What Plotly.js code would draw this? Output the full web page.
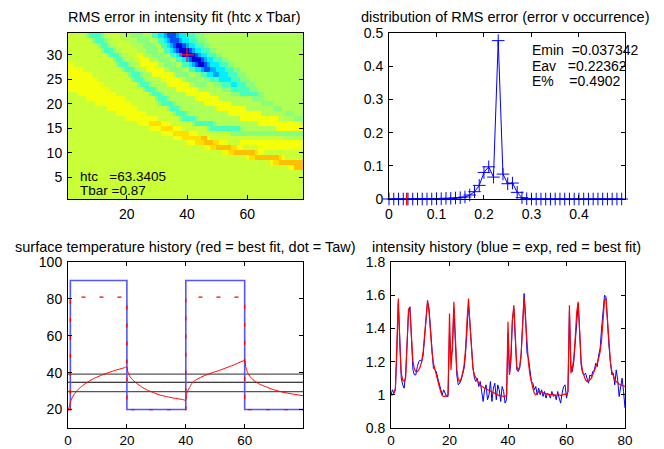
<!DOCTYPE html>
<html><head><meta charset="utf-8">
<script src="https://cdn.plot.ly/plotly-3.0.1.min.js"></script>
<style>html,body{margin:0;padding:0;background:#fff}#plot{width:664px;height:449px}</style>
</head><body><div id="plot"></div>
<script>
// ---------- Heatmap (RMS error, htc x Tbar) : rows from y=34 (top) to y=1 (bottom), segments "from-to:level" ----------
const heatRows = [
"1-6:7 7:5 8-11:4 12:5 13:6 14-17:7 18-21:6 22-25:5 26-28:6 29-30:4 31-32:3 33:2 34-36:1 37:2 38-39:3 40-42:4 43-45:5 46-78:6",
"1-8:7 9:5 10-12:4 13:5 14-15:6 16-19:7 20-23:6 24-27:5 28-30:6 31-32:4 33:3 34:2 35-37:1 38:2 39-40:3 41-43:4 44-46:5 47-78:6",
"1-10:7 11:5 12-13:4 14:5 15-16:6 17-21:7 22-25:6 26-29:5 30-31:6 32-33:4 34:3 35:2 36:1 37-38:0 39:1 40:2 41-42:3 43-45:4 46-47:5 48-78:6",
"1-11:7 12:5 13-15:4 16:5 17-18:6 19-23:7 24-26:6 27-30:5 31-32:6 33-34:4 35:3 36:2 37:1 38-40:0 41:1 42:2 43-44:3 45-47:4 48-49:5 50-78:6",
"1-13:7 14:5 15-17:4 18:5 19-20:6 21-23:7 24-25:8 26-28:6 29-32:5 33-34:6 35-36:4 37:3 38:2 39-42:0 43:1 44:2 45-46:3 47-49:4 50-51:5 52-78:6",
"1-15:7 16:5 17-18:4 19:5 20-22:6 23-24:7 25-27:8 28-30:6 31-34:5 35-36:6 37-38:4 39:3 40:2 41:1 42-44:0 45:1 46:2 47-48:3 49-51:4 52-53:5 54-78:6",
"1-2:8 3-16:7 17:5 18-20:4 21:5 22-24:6 25-30:8 31-32:6 33-36:5 37-38:6 39-40:4 41:3 42:2 43:1 44-45:0 46:1 47:2 48-50:3 51-53:4 54-55:5 56-78:6",
"1-5:8 6-18:7 19:5 20-22:4 23:5 24-26:6 27-32:8 33-34:6 35-38:5 39-40:6 41-42:4 43-44:3 45:2 46-47:1 48-49:2 50-52:3 53-55:4 56-57:5 58-78:6",
"1-8:8 9-20:7 21:5 22-24:4 25:5 26-28:6 29-35:8 36:6 37-40:5 41-42:6 43-44:5 45-46:4 47-48:3 49-50:2 51-53:3 54-56:4 57-59:5 60-78:6",
"1-10:8 11-21:7 22:5 23-25:4 26:5 27-31:6 32-38:8 39:6 40-43:5 44-45:6 46-47:5 48-50:4 51-54:3 55-57:4 58-60:5 61-78:6",
"1-12:8 13-23:7 24:5 25-27:4 28:5 29-33:6 34-40:8 41-42:6 43-46:5 47-48:6 49-51:5 52-54:4 55-56:3 57-59:4 60-62:5 63-78:6",
"1-14:8 15-25:7 26:5 27-29:4 30:5 31-36:6 37-43:8 44-51:6 52-54:5 55-60:4 61-63:5 64-78:6",
"1-3:7 4-16:8 17-27:7 28:5 29-31:4 32:5 33-39:6 40-47:8 48-54:6 55-57:5 58-63:4 64-65:5 66-78:6",
"1-6:7 7-19:8 20-29:7 30:5 31-33:4 34:5 35-42:6 43-50:8 51-58:6 59-61:6 62-65:5 66-68:6 69-78:6",
"1-9:7 10-21:8 22-30:7 31:5 32-35:4 36:5 37-45:6 46-54:8 55-61:6 62-64:6 65-68:5 69-70:6 71-78:6",
"1-13:7 14-23:8 24-33:7 34:5 35-37:4 38:5 39-49:6 50-59:8 60-65:6 66-68:6 69-71:5 72-74:6 75-78:6",
"1-16:7 17-26:8 27-35:7 36:5 37-39:4 40:5 41-53:6 54-64:8 65-69:6 70-72:6 73-75:5 76-78:6",
"1-19:7 20-30:8 31-37:7 38:5 39-42:4 43:5 44-57:6 58-70:8 71-73:6 74-75:6 76-78:5",
"1-23:7 24-34:8 28-31:9 35-41:7 42:5 43-48:4 49:5 50-63:6 64-77:8 78:7",
"1-27:7 28-38:8 32-35:9 39-46:7 47:5 48-57:4 58:5 59-69:6 70-78:8",
"1-31:7 32-43:8 36-40:9 44-54:7 55-78:5",
"1-35:7 36-47:8 39-44:9 45-46:10 48-71:7 72-78:6",
"1-39:7 40-53:8 43-50:9 46-48:10 54-57:7 58-78:8",
"1-45:7 46-58:8 48-56:9 50-54:10 59-63:7 64-78:8",
"1-51:7 52-65:8 54-63:9 56-62:10 66-78:7",
"1-59:7 60-72:8 61-71:9 63-70:10 73-78:7",
"1-67:7 68-78:8 69-78:9 71-78:10",
"1-73:7 74-75:8 76-78:10",
"1-78:7","1-78:7","1-78:7","1-78:7","1-78:7","1-78:7"
];
const heatNCols = 78;
const levelColors = ['rgb(0,0,215)','rgb(0,80,255)','rgb(0,170,255)','rgb(0,240,255)','rgb(70,255,190)',
  'rgb(135,255,125)','rgb(175,255,85)','rgb(200,255,55)','rgb(245,255,10)','rgb(255,222,0)','rgb(255,190,0)'];
const bestHtcIdx = 40, bestTbarIdx = 30;
const htcText = "htc\u00a0\u00a0\u00a0=63.3405";
const tbarText = "Tbar\u00a0=0.87";
const heatXTicks = [20,40,60];
const heatYTicks = [5,10,15,20,25,30];

// ---------- Distribution of RMS error ----------
const histBins = Array.from({length:50},(_,i)=>+(i*0.01).toFixed(2));
const histFreq = [0,0,0,0,0,0,0,0,0,0,
  0.001,0.001,0.002,0.002,0.003,0.004,0.006,0.012,0.022,0.041,
  0.080,0.097,0.066,0.477,0.075,0.046,0.048,0.020,0.004,0.001,
  0,0,0,0,0,0,0,0,0,0,
  0,0,0,0,0,0,0,0,0,0];
const Emin = 0.037342, Eav = 0.22362, Epct = 0.4902;
const histXTicks = [0,0.1,0.2,0.3,0.4], histXText = ['0','0.1','0.2','0.3','0.4'];
const histYTicks = [0,0.1,0.2,0.3,0.4,0.5], histYText = ['0','0.1','0.2','0.3','0.4','0.5'];

// ---------- Surface temperature history ----------
const gasX = [0,0.8,0.8,20,20,40,40,60,60,80];
const gasY = [20,20,90,90,20,20,90,90,20,20];
const tawY = [20,20,81,81,20,20,81,81,20,20];
const tsX = [0,0.5,1,2,3.5,5,7,9,11,13,15,17,19,20,
  20.3,21,22,23.5,25,27,29,31,33,35,37,39,40,
  40.2,40.6,41.3,42,43,44.5,46.5,49,51,53.5,56,58,60,
  60.3,61,62,63.5,65,67,69,71,73,75,77,80];
const tsY = [19.5,22,25,28,31,33,35.3,37,38.4,39.6,40.7,41.7,42.6,43.2,
  40.5,38,36,34,32.3,30.5,29.2,28,27.2,26.5,25.9,25.4,25,
  27.5,30,32,34,35.6,37,38.5,40,41,42.5,44,45.4,46.5,
  43.5,40,37.5,35.3,33.8,32.5,31.2,30.2,29.4,28.8,28.2,27.5];
const refLevels = [39.2, 34.8, 29.7];
const refColors = ['#555','#000','#555'];
const tempXTicks = [0,20,40,60];
const tempYTicks = [20,40,60,80,100];

// ---------- Intensity history ----------
const timeStep = 0.5;
const intExp = [
 1.00,1.03,1.01,1.04,1.25,1.55,1.35,1.10,1.06,1.04,
 1.12,1.35,1.50,1.53,1.30,1.15,1.12,1.12,1.17,1.20,
 1.21,1.20,1.24,1.35,1.47,1.56,1.52,1.38,1.25,1.16,
 1.15,1.14,1.10,1.07,1.03,1.00,1.03,1.01,0.99,0.99,
 1.38,1.22,1.27,1.52,1.30,1.12,1.06,1.07,1.09,1.12,
 1.16,1.25,1.40,1.54,1.43,1.27,1.17,1.10,1.08,1.10,
 1.05,1.08,1.02,0.96,1.03,1.06,0.97,1.00,1.08,0.96,
 1.04,1.07,0.97,1.06,1.03,0.96,1.05,1.02,0.95,0.97,
 1.37,1.12,1.20,1.45,1.52,1.28,1.15,1.14,1.16,1.24,
 1.40,1.61,1.48,1.25,1.22,1.14,1.08,1.07,1.03,1.05,
 1.00,1.04,1.00,1.03,0.99,1.02,0.98,1.01,1.00,0.98,
 1.02,0.99,1.00,0.97,1.02,0.98,0.95,1.01,1.05,1.06,
 0.98,1.02,1.50,1.18,1.14,1.20,1.34,1.48,1.55,1.38,
 1.18,1.13,1.12,1.13,1.10,1.07,1.12,1.11,1.14,1.15,
 1.19,1.17,1.24,1.28,1.40,1.52,1.60,1.59,1.42,1.30,
 1.20,1.12,1.13,1.06,1.15,1.09,0.99,1.04,1.10,1.02,
 0.92];
const intFit = [
 1.00,1.00,1.01,1.03,1.30,1.58,1.30,1.13,1.09,1.08,
 1.10,1.30,1.52,1.50,1.32,1.20,1.155,1.14,1.14,1.15,
 1.17,1.20,1.26,1.36,1.48,1.57,1.50,1.36,1.26,1.19,
 1.15,1.11,1.08,1.05,1.02,0.995,0.99,0.99,0.995,1.00,
 1.49,1.15,1.30,1.56,1.35,1.15,1.09,1.08,1.10,1.13,
 1.18,1.28,1.45,1.58,1.42,1.25,1.16,1.12,1.10,1.08,
 1.07,1.06,1.05,1.045,1.04,1.035,1.03,1.025,1.02,1.015,
 1.01,1.005,1.00,1.00,0.995,0.995,0.99,0.99,0.99,0.995,
 1.44,1.12,1.25,1.45,1.54,1.30,1.17,1.15,1.17,1.25,
 1.42,1.585,1.45,1.28,1.19,1.12,1.07,1.04,1.01,1.00,
 1.01,1.02,1.02,1.015,1.01,1.01,1.005,1.005,1.00,1.00,
 1.005,1.00,1.00,0.995,1.00,1.00,0.995,1.00,1.00,1.005,
 1.00,1.02,1.54,1.13,1.16,1.22,1.35,1.50,1.56,1.40,
 1.20,1.14,1.11,1.09,1.08,1.08,1.09,1.10,1.12,1.14,
 1.16,1.19,1.22,1.26,1.33,1.48,1.57,1.58,1.45,1.28,
 1.20,1.14,1.11,1.09,1.08,1.07,1.065,1.06,1.055,1.05,
 1.05];
const intXTicks = [0,20,40,60,80];
const intYTicks = [0.8,1,1.2,1.4,1.6,1.8], intYText = ['0.8','1','1.2','1.4','1.6','1.8'];

// ---------- build ----------
function decodeRow(s){
  const row = new Array(heatNCols).fill(7);
  s.split(' ').forEach(seg=>{
    const [rng,lv] = seg.split(':');
    const p = rng.split('-').map(Number);
    const a = p[0], b = p.length>1 ? p[1] : p[0];
    for(let c=a;c<=b;c++) row[c-1] = Number(lv);
  });
  return row;
}
const heatZ = heatRows.map(decodeRow);
const heatY = heatRows.map((_,i)=>heatRows.length-i);
const heatX = Array.from({length:heatNCols},(_,i)=>i+1);
const nL = levelColors.length;
const cscale = [];
levelColors.forEach((c,i)=>{ cscale.push([i/nL,c]); cscale.push([(i+1)/nL,c]); });
const timeX = intExp.map((_,i)=>i*timeStep);

const F = 'Liberation Sans, Arial, Helvetica, sans-serif';
const W = 664, H = 449;
function px(x){return x/W;} function py(y){return 1-y/H;}
function axis(extra){
  return Object.assign({showline:true, mirror:'allticks', linecolor:'#000', linewidth:1,
    ticks:'inside', ticklen:4, tickwidth:1, tickcolor:'#000', showgrid:false, zeroline:false,
    tickfont:{family:F,size:14,color:'#000'}, fixedrange:true, ticklabelstandoff:2}, extra);
}
const bottomTickFont = {family:F,size:13.5,color:'#000'};

const traces = [
  {type:'heatmap', x:heatX, y:heatY, z:heatZ, colorscale:cscale, zmin:-0.5, zmax:nL-0.5,
   showscale:false, xaxis:'x', yaxis:'y', hoverinfo:'skip'},
  {type:'scatter', mode:'markers', x:[bestHtcIdx], y:[bestTbarIdx], xaxis:'x', yaxis:'y',
   marker:{symbol:'cross-thin', size:10, line:{color:'#ff2020', width:1.2}}, hoverinfo:'skip'},

  {type:'scatter', mode:'lines+markers', x:histBins, y:histFreq, xaxis:'x2', yaxis:'y2', cliponaxis:false,
   line:{color:'#0000ff', width:1}, marker:{symbol:'cross-thin', size:9, line:{color:'#0000ff', width:1}}},
  {type:'scatter', mode:'markers', x:[Emin], y:[0], xaxis:'x2', yaxis:'y2', cliponaxis:false,
   marker:{symbol:'line-ns', size:9, line:{color:'#ff0000', width:1.5}}},
];
refLevels.forEach((lv,i)=>traces.push({type:'scatter', mode:'lines', x:[0,80], y:[lv,lv], xaxis:'x3', yaxis:'y3',
  line:{color:refColors[i], width:1.2}}));
traces.push({type:'scatter', mode:'lines', x:gasX, y:gasY, xaxis:'x3', yaxis:'y3', line:{color:'#5555ff', width:1.6}});
traces.push({type:'scatter', mode:'lines', x:gasX, y:tawY, xaxis:'x3', yaxis:'y3', line:{color:'#ff0000', width:1.3, dash:'4px,14px'}});
traces.push({type:'scatter', mode:'lines', x:tsX, y:tsY, xaxis:'x3', yaxis:'y3', line:{color:'#ff0000', width:1, shape:'spline', smoothing:0.6}});
traces.push({type:'scatter', mode:'lines', x:timeX, y:intExp, xaxis:'x4', yaxis:'y4', line:{color:'#0000ff', width:1}});
traces.push({type:'scatter', mode:'lines', x:timeX, y:intFit, xaxis:'x4', yaxis:'y4', line:{color:'#ff0000', width:1.2}});

const titleFont = {family:F, size:14.5, color:'#000'};
const txtFont = {family:F, size:13.5, color:'#000'};
const layout = {
  width:W, height:H, margin:{l:0,r:0,t:0,b:0}, paper_bgcolor:'#fff', plot_bgcolor:'#fff', showlegend:false,
  xaxis: axis({domain:[px(68),px(303)], range:[0.5,78.5], tickvals:heatXTicks, anchor:'y'}),
  yaxis: axis({domain:[py(199),py(33)], range:[0.5,34.5], tickvals:heatYTicks, anchor:'x'}),
  xaxis2: axis({domain:[px(389),px(625)], range:[0,0.497], tickvals:histXTicks, ticktext:histXText, anchor:'y2'}),
  yaxis2: axis({domain:[py(199),py(33)], range:[0,0.5], tickvals:histYTicks, ticktext:histYText, anchor:'x2'}),
  xaxis3: axis({domain:[px(68),px(303)], range:[0,79.8], tickvals:tempXTicks, anchor:'y3', tickfont:bottomTickFont, ticklabelstandoff:0}),
  yaxis3: axis({domain:[py(428),py(262)], range:[10,100], tickvals:tempYTicks, anchor:'x3'}),
  xaxis4: axis({domain:[px(391),px(625)], range:[0,80], tickvals:intXTicks, anchor:'y4', tickfont:bottomTickFont, ticklabelstandoff:0}),
  yaxis4: axis({domain:[py(428),py(262)], range:[0.8,1.8], tickvals:intYTicks, ticktext:intYText, anchor:'x4'}),
  annotations:[
    {text:'RMS error in intensity fit (htc x Tbar)', xref:'paper', yref:'paper', x:px(184), y:py(17), showarrow:false, font:titleFont, xanchor:'center', yanchor:'middle'},
    {text:'distribution of RMS error (error v occurrence)', xref:'paper', yref:'paper', x:px(505), y:py(17), showarrow:false, font:titleFont, xanchor:'center', yanchor:'middle'},
    {text:'surface temperature history (red = best fit, dot = Taw)', xref:'paper', yref:'paper', x:px(185), y:py(247), showarrow:false, font:titleFont, xanchor:'center', yanchor:'middle'},
    {text:'intensity history (blue = exp, red = best fit)', xref:'paper', yref:'paper', x:px(506), y:py(247), showarrow:false, font:titleFont, xanchor:'center', yanchor:'middle'},
    {text:htcText, xref:'x', yref:'y', x:4.3, y:5.1, showarrow:false, xanchor:'left', yanchor:'middle', font:txtFont, borderpad:0},
    {text:tbarText, xref:'x', yref:'y', x:4.3, y:2.3, showarrow:false, xanchor:'left', yanchor:'middle', font:txtFont, borderpad:0},
    {text:'Emin\u00a0\u00a0=' + Emin, xref:'x2', yref:'y2', x:0.297, y:0.45, showarrow:false, xanchor:'left', yanchor:'middle', font:{family:F,size:14,color:'#000'}},
    {text:'Eav\u00a0\u00a0\u00a0=' + Eav, xref:'x2', yref:'y2', x:0.297, y:0.40, showarrow:false, xanchor:'left', yanchor:'middle', font:{family:F,size:14,color:'#000'}},
    {text:'E%\u00a0\u00a0\u00a0\u00a0=' + Epct, xref:'x2', yref:'y2', x:0.297, y:0.354, showarrow:false, xanchor:'left', yanchor:'middle', font:{family:F,size:14,color:'#000'}}
  ]
};
Plotly.newPlot('plot', traces, layout, {staticPlot:true, displayModeBar:false});
</script></body></html>
